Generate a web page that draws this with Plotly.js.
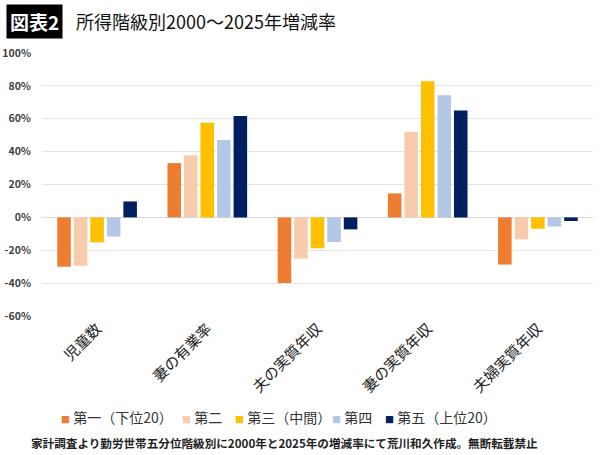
<!DOCTYPE html>
<html>
<head>
<meta charset="utf-8">
<script src="https://cdn.plot.ly/plotly-3.0.1.min.js"></script>
<style>html,body{margin:0;padding:0;background:#fff;}#chart{width:600px;height:455px;}</style>
</head>
<body>
<div id="chart"></div>
<script>
const categories = ["児童数", "妻の有業率", "夫の実質年収", "妻の実質年収", "夫婦実質年収"];
const seriesNames = ["第一（下位20）", "第二", "第三（中間）", "第四", "第五（上位20）"];
const seriesColors = ["#ED7D31", "#F8CBAD", "#FFC000", "#B4C7E7", "#002060"];
const q1 = [-30.0, 33.0, -39.9, 14.6, -28.7];
const q2 = [-29.4, 37.7, -25.1, 52.0, -13.4];
const q3 = [-15.2, 57.5, -18.8, 82.8, -6.9];
const q4 = [-11.7, 47.0, -15.0, 74.3, -5.5];
const q5 = [9.7, 61.7, -7.3, 65.0, -2.2];
const seriesValues = [q1, q2, q3, q4, q5];
const yTickVals = [-60, -40, -20, 0, 20, 40, 60, 80, 100];
const yTickText = ["-60%", "-40%", "-20%", "0%", "20%", "40%", "60%", "80%", "100%"];
const titleTag = "図表2";
const titleText = "所得階級別2000～2025年増減率";
const footnote = "家計調査より勤労世帯五分位階級別に2000年と2025年の増減率にて荒川和久作成。無断転載禁止";

const FONT = "'Noto Sans CJK JP', 'Noto Sans', sans-serif";
// left edge (px) of each legend entry box
const legendLeftPx = [21, 142, 195, 292, 345];
const legendIds = ["legend", "legend2", "legend3", "legend4", "legend5"];

const barTraces = seriesValues.map((vals, i) => ({
  type: "bar",
  name: seriesNames[i],
  x: categories,
  y: vals,
  marker: {color: seriesColors[i]},
  showlegend: false,
  hoverinfo: "skip"
}));

// legend entries (no data drawn); small coloured square drawn as a glyph
const legendTraces = seriesNames.map((nm, i) => ({
  type: "scatter",
  mode: "markers",
  name: '<span style="font-size:9px;color:' + seriesColors[i] + '">■</span> ' + nm,
  x: [categories[0]],
  y: [null],
  marker: {symbol: "square", size: 1, color: "rgba(0,0,0,0)", opacity: 0, line: {width: 0}},
  legend: legendIds[i],
  showlegend: true,
  hoverinfo: "skip"
}));

const layout = {
  width: 600,
  height: 455,
  margin: {l: 42, r: 7, t: 53, b: 139},
  paper_bgcolor: "#ffffff",
  plot_bgcolor: "#ffffff",
  font: {family: FONT, color: "#404040"},
  barmode: "group",
  bargap: 0.25,
  bargroupgap: 0.18,
  showlegend: true,
  xaxis: {
    type: "category",
    tickangle: -45,
    tickfont: {family: FONT, size: 15, color: "#222222"},
    showgrid: false,
    showline: false,
    ticks: "",
    automargin: false
  },
  yaxis: {
    range: [-60, 100],
    tickmode: "array",
    tickvals: yTickVals,
    ticktext: yTickText,
    tickfont: {family: FONT, size: 10.5, color: "#404040", weight: "bold"},
    ticklabelstandoff: 10,
    showgrid: true,
    gridcolor: "#e4e4e4",
    gridwidth: 1,
    zeroline: true,
    zerolinecolor: "#d9d9d9",
    zerolinewidth: 1,
    showline: false,
    ticks: "",
    automargin: false,
    fixedrange: true
  },
  annotations: [
    {
      xref: "paper", yref: "paper",
      x: -42/551 + 6/551, xanchor: "left",
      y: 1 + (53 - 21)/263.6, yanchor: "middle",
      text: "<b>" + titleTag + "</b>",
      showarrow: false,
      bgcolor: "#000000",
      borderpad: 3,
      font: {family: FONT, size: 19, color: "#ffffff"}
    },
    {
      xref: "paper", yref: "paper",
      x: -42/551 + 74/551, xanchor: "left",
      y: 1 + (53 - 21)/263.6, yanchor: "middle",
      text: titleText,
      showarrow: false,
      font: {family: FONT, size: 18, color: "#111111"}
    },
    {
      xref: "paper", yref: "paper",
      x: -42/551 + 29/551, xanchor: "left",
      y: -(443 - 316)/263.6, yanchor: "middle",
      text: "<b>" + footnote + "</b>",
      showarrow: false,
      font: {family: FONT, size: 11.6, color: "#222222"}
    }
  ]
};

legendIds.forEach((id, i) => {
  layout[id] = {
    orientation: "h",
    x: (legendLeftPx[i] - 42) / 551, xanchor: "left",
    y: -(402 - 316) / 263.6, yanchor: "top",
    font: {family: FONT, size: 14, color: "#333333"},
    itemwidth: 30,
    bgcolor: "rgba(0,0,0,0)"
  };
});

Plotly.newPlot("chart", barTraces.concat(legendTraces), layout, {displayModeBar: false, staticPlot: true});
</script>
</body>
</html>
